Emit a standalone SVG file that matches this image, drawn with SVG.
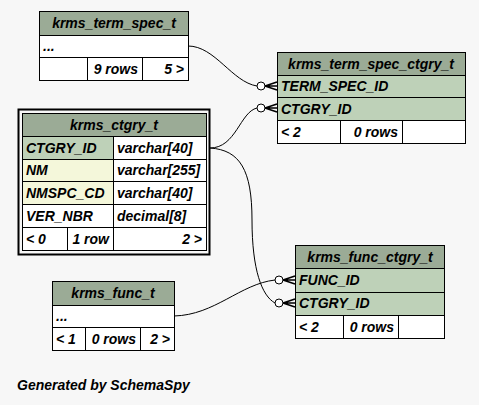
<svg xmlns="http://www.w3.org/2000/svg" width="479" height="405" viewBox="0 0 479 405">
<style>
text{font-family:"Liberation Sans",Arial,sans-serif;font-weight:bold;font-style:italic;font-size:14px;fill:#000}
.t{text-anchor:middle}
.r{text-anchor:end}
.hd{fill:#9bab96;stroke:#000;stroke-width:1}
.pk{fill:#bed1b8;stroke:#000;stroke-width:1}
.ix{fill:#f4f7da;stroke:#000;stroke-width:1}
.c{fill:#fff;stroke:#000;stroke-width:1}
.e{fill:#f7f7f7;stroke:#000;stroke-width:1}
.ln{fill:none;stroke:#000;stroke-width:1}
</style>
<defs>
<g id="crow">
<circle cx="-16" cy="0" r="4" fill="#fff" stroke="#000" stroke-width="1"/>
<path d="M-12,0 L0,-4 M-12,0 L0,0 M-12,0 L0,4" fill="none" stroke="#000" stroke-width="1.6"/>
</g>
</defs>
<rect width="479" height="405" fill="#f7f7f7"/>

<g id="connectors">
<path class="ln" d="M188,46 C215,46 232,82 257,86"/>
<path class="ln" d="M210,148 C236,148 240,112 257,108"/>
<path class="ln" d="M210,148 C240,150 252,170 252,220 C252,270 262,296 275,303"/>
<path class="ln" d="M174,316 C215,315 240,284 275,280"/>
<use href="#crow" x="277" y="86"/>
<use href="#crow" x="277" y="108"/>
<use href="#crow" x="295" y="280"/>
<use href="#crow" x="295" y="303"/>
</g>

<g id="krms_term_spec_t">
<rect class="hd" x="39.5" y="11.5" width="149" height="24"/>
<rect class="c" x="39.5" y="35.5" width="149" height="22"/>
<rect class="c" x="39.5" y="57.5" width="48" height="23"/>
<rect class="c" x="87.5" y="57.5" width="55" height="23"/>
<rect class="c" x="142.5" y="57.5" width="46" height="23"/>
<text class="t" x="114" y="28">krms_term_spec_t</text>
<text x="43" y="51">...</text>
<text class="r" x="138" y="74">9 rows</text>
<text class="r" x="184" y="74">5 &gt;</text>
</g>

<g id="krms_term_spec_ctgry_t">
<rect class="hd" x="277.5" y="52.5" width="188" height="23"/>
<rect class="pk" x="277.5" y="75.5" width="188" height="22"/>
<rect class="pk" x="277.5" y="97.5" width="188" height="23"/>
<rect class="c" x="277.5" y="120.5" width="63" height="23"/>
<rect class="c" x="340.5" y="120.5" width="62" height="23"/>
<rect class="c" x="402.5" y="120.5" width="63" height="23"/>
<text class="t" x="371" y="69">krms_term_spec_ctgry_t</text>
<text x="281" y="91">TERM_SPEC_ID</text>
<text x="281" y="114">CTGRY_ID</text>
<text x="281" y="137">&lt; 2</text>
<text class="r" x="398" y="137">0 rows</text>
</g>

<g id="krms_ctgry_t">
<rect x="18.5" y="109.5" width="191" height="145" fill="none" stroke="#000" stroke-width="2"/>
<rect class="hd" x="22.5" y="113.5" width="184" height="23"/>
<rect class="pk" x="22.5" y="136.5" width="91" height="23"/>
<rect class="c" x="113.5" y="136.5" width="93" height="23"/>
<rect class="ix" x="22.5" y="159.5" width="91" height="22"/>
<rect class="c" x="113.5" y="159.5" width="93" height="22"/>
<rect class="ix" x="22.5" y="181.5" width="91" height="23"/>
<rect class="c" x="113.5" y="181.5" width="93" height="23"/>
<rect class="c" x="22.5" y="204.5" width="91" height="23"/>
<rect class="c" x="113.5" y="204.5" width="93" height="23"/>
<rect class="c" x="22.5" y="227.5" width="45" height="23"/>
<rect class="c" x="67.5" y="227.5" width="46" height="23"/>
<rect class="c" x="113.5" y="227.5" width="93" height="23"/>
<text class="t" x="114" y="130">krms_ctgry_t</text>
<text x="26" y="153">CTGRY_ID</text>
<text x="117" y="153">varchar[40]</text>
<text x="26" y="175">NM</text>
<text x="117" y="175">varchar[255]</text>
<text x="26" y="198">NMSPC_CD</text>
<text x="117" y="198">varchar[40]</text>
<text x="26" y="221">VER_NBR</text>
<text x="117" y="221">decimal[8]</text>
<text x="26" y="244">&lt; 0</text>
<text class="r" x="109" y="244">1 row</text>
<text class="r" x="202" y="244">2 &gt;</text>
</g>

<g id="krms_func_ctgry_t">
<rect class="hd" x="295.5" y="245.5" width="149" height="23"/>
<rect class="pk" x="295.5" y="268.5" width="149" height="24"/>
<rect class="pk" x="295.5" y="292.5" width="149" height="23"/>
<rect class="c" x="295.5" y="315.5" width="48" height="23"/>
<rect class="c" x="343.5" y="315.5" width="55" height="23"/>
<rect class="c" x="398.5" y="315.5" width="46" height="23"/>
<text class="t" x="370" y="262">krms_func_ctgry_t</text>
<text x="299" y="285">FUNC_ID</text>
<text x="299" y="308">CTGRY_ID</text>
<text x="299" y="332">&lt; 2</text>
<text class="r" x="394" y="332">0 rows</text>
</g>

<g id="krms_func_t">
<rect class="hd" x="52.5" y="281.5" width="122" height="24"/>
<rect class="c" x="52.5" y="305.5" width="122" height="22"/>
<rect class="c" x="52.5" y="327.5" width="33" height="23"/>
<rect class="c" x="85.5" y="327.5" width="55" height="23"/>
<rect class="c" x="140.5" y="327.5" width="34" height="23"/>
<text class="t" x="113" y="298">krms_func_t</text>
<text x="56" y="321">...</text>
<text x="56" y="344">&lt; 1</text>
<text class="r" x="136" y="344">0 rows</text>
<text class="r" x="170" y="344">2 &gt;</text>
</g>

<text x="17" y="390">Generated by SchemaSpy</text>
</svg>
